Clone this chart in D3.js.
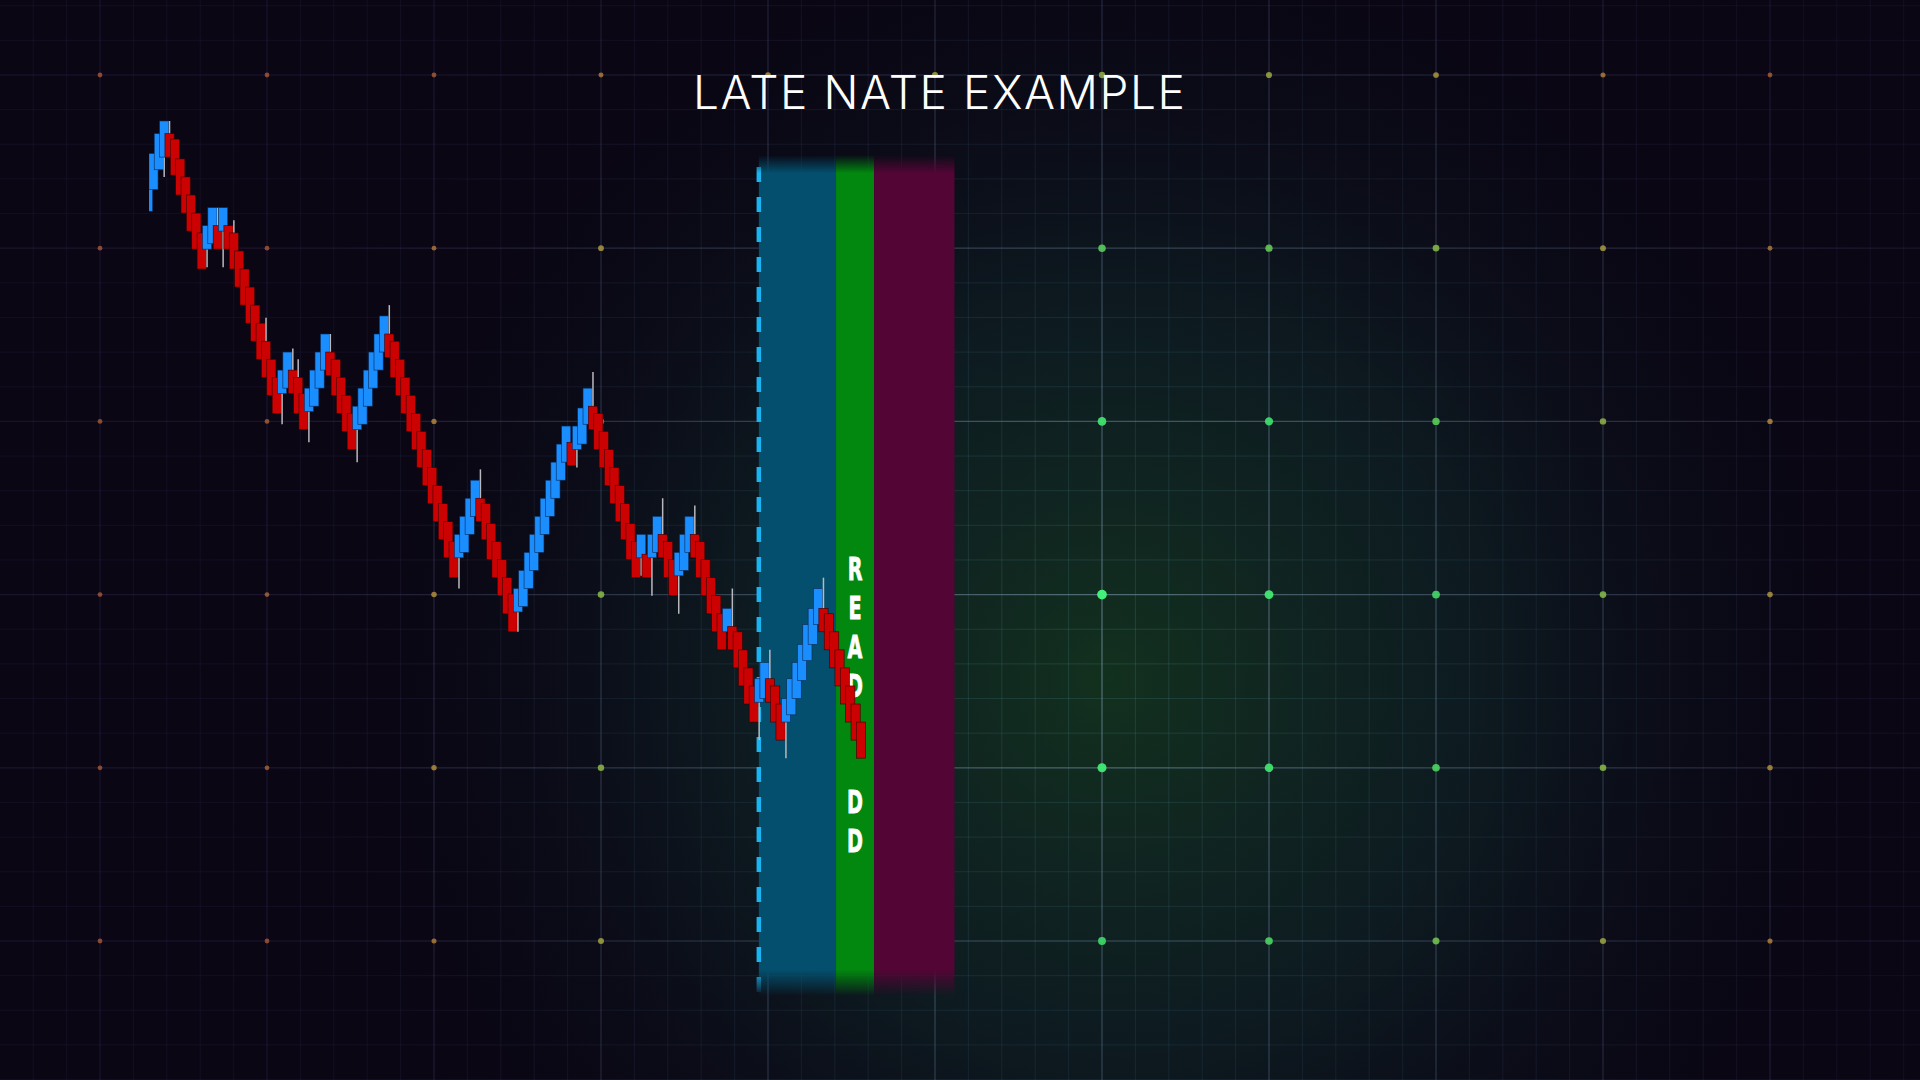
<!DOCTYPE html>
<html><head><meta charset="utf-8">
<script src="https://cdn.jsdelivr.net/npm/d3@7"></script>
<style>html,body{margin:0;padding:0;background:#0b0716;overflow:hidden}</style>
</head><body>
<svg id="c" width="1920" height="1080"></svg>
<script>
// ---------------- data ----------------
const title = "LATE NATE EXAMPLE";
const bandLabel = ["R","E","A","D","","","D","D"];
// brick open / close values (price in box units)
const opens = [
 -5,-3.8,-2.7,-2,-0.7,-1,-2.1,-3.1,-4.1,-5.1,
 -6.2,-7.1,-6.8,-5.8,-6.1,-5.8,-6.2,-7.2,-8.2,-9.2,
 -10.2,-11.2,-12.2,-13.2,-14.2,-15.1,-14.8,-13.8,-14.2,-15.1,
 -16.1,-15.8,-14.8,-13.8,-12.8,-13.2,-14.2,-15.2,-16.2,-17.1,
 -16.8,-15.8,-14.8,-13.8,-12.8,-11.8,-12.2,-13.2,-14.2,-15.2,
 -16.2,-17.2,-18.2,-19.2,-20.2,-21.2,-22.2,-23.3,-24.2,-23.9,
 -22.9,-21.9,-20.9,-21.2,-22.3,-23.3,-24.3,-25.3,-26.2,-27.2,
 -26.9,-25.9,-24.9,-23.9,-22.9,-21.9,-20.9,-19.9,-18.9,-17.8,
 -18.2,-17.9,-16.8,-15.8,-16.2,-17.2,-18.2,-19.2,-20.2,-21.2,
 -22.3,-23.3,-24.2,-24,-24.2,-23.9,-22.9,-23.3,-24.3,-25.2,
 -24.9,-23.9,-22.9,-23.3,-24.3,-25.3,-26.3,-27.3,-28.3,-28,
 -28.3,-29.3,-30.3,-31.3,-32.2,-32,-30.9,-31.3,-32.3,-33.3,
 -32.9,-32,-31,-29.9,-29,-27.9,-27,-27.3,-28.3,-29.3,
 -30.3,-31.3,-32.3,-33.3
];
const closes = [
 -3,-1.8,-0.7,0,-2,-3,-4.1,-5.1,-6.1,-7.1,
 -8.2,-5.8,-4.8,-7.1,-4.8,-7.1,-8.2,-9.2,-10.2,-11.2,
 -12.2,-13.2,-14.2,-15.2,-16.2,-13.8,-12.8,-15.1,-16.2,-17.1,
 -14.8,-13.8,-12.8,-11.8,-14.1,-15.2,-16.2,-17.2,-18.2,-15.8,
 -14.8,-13.8,-12.8,-11.8,-10.8,-13.1,-14.2,-15.2,-16.2,-17.2,
 -18.2,-19.2,-20.2,-21.2,-22.2,-23.2,-24.2,-25.3,-22.9,-21.9,
 -20.9,-19.9,-22.2,-23.2,-24.3,-25.3,-26.3,-27.3,-28.3,-25.9,
 -24.9,-23.9,-22.9,-21.9,-20.9,-19.9,-18.9,-17.9,-16.9,-19.1,
 -16.9,-15.9,-14.8,-17.1,-18.2,-19.2,-20.2,-21.2,-22.2,-23.2,
 -24.3,-25.3,-22.9,-25.3,-22.9,-21.9,-24.2,-25.3,-26.3,-23.9,
 -22.9,-21.9,-24.2,-25.3,-26.3,-27.3,-28.3,-29.3,-27,-29.3,
 -30.3,-31.3,-32.3,-33.3,-30.9,-30,-32.2,-33.3,-34.3,-32,
 -30.9,-30,-29,-27.9,-27,-25.9,-28.3,-29.3,-30.3,-31.3,
 -32.3,-33.3,-34.3,-35.3
];
// wicks: [brick index, extreme price]
const wicks = [
 [3,-3.1],[4,0],[11,-8.1],[13,-4.8],[14,-8.1],[16,-5.5],[22,-10.9],[25,-16.8],
 [27,-12.6],[28,-13.2],[30,-17.8],[34,-11.8],[39,-18.9],[45,-10.2],[58,-25.9],
 [62,-19.3],[69,-28.3],[80,-19.2],[83,-13.9],[92,-25.2],[94,-26.3],[96,-20.9],
 [99,-27.3],[102,-21.3],[109,-25.9],[114,-34.3],[116,-29.3],[119,-35.3],[126,-25.3]
];
// zone edges in brick-index units: entry (blue), ready (green), target (maroon)
const zoneEdges = [114.8, 129.2, 136.3, 151.3];
const zoneColors = ["#044f6d", "#02870f", "#530535"];
// grid (major cells)
const gridColsN = 10, gridRowsN = 5;

// ---------------- drawing ----------------
const W = 1920, H = 1080;
const svg = d3.select("#c");
const defs = svg.append("defs");

// scales
const x = d3.scaleLinear().domain([0, opens.length - 1]).range([143.5, 143.5 + 133 * 5.36]);
const y = d3.scaleLinear().domain([0, -36]).range([121, 121 + 36 * 18.05]);
const gx = d3.scaleLinear().domain([0, gridColsN]).range([100, 1770]);
const gy = d3.scaleLinear().domain([0, gridRowsN]).range([75, 941]);

// background
svg.append("rect").attr("width", W).attr("height", H).attr("fill", "#0a0614");
const glow = defs.append("radialGradient").attr("id", "glow")
  .attr("gradientUnits", "userSpaceOnUse").attr("cx", 1110).attr("cy", 680).attr("r", 800);
glow.append("stop").attr("offset", 0).attr("stop-color", "#13331f").attr("stop-opacity", 0.95);
glow.append("stop").attr("offset", 0.45).attr("stop-color", "#0f2426").attr("stop-opacity", 0.7);
glow.append("stop").attr("offset", 1).attr("stop-color", "#0a0614").attr("stop-opacity", 0);
svg.append("rect").attr("width", W).attr("height", H).attr("fill", "url(#glow)");

// grid stroke gradients
function lineGrad(id, stops) {
  const g = defs.append("radialGradient").attr("id", id)
    .attr("gradientUnits", "userSpaceOnUse").attr("cx", 1110).attr("cy", 640).attr("r", 900);
  stops.forEach(s => g.append("stop").attr("offset", s[0]).attr("stop-color", s[1]).attr("stop-opacity", s[2]));
}
lineGrad("minorG", [[0, "#3f7a78", 0.3], [0.55, "#35506a", 0.2], [1, "#3a2c60", 0.18]]);
lineGrad("majorG", [[0, "#8a9cb8", 0.5], [0.5, "#6a7a98", 0.32], [1, "#3a2c60", 0.2]]);

const minorX = d3.range(-3, gridColsN * 5 + 5).map(k => gx(k / 5)).filter(v => v >= 0 && v <= W);
const minorY = d3.range(-3, gridRowsN * 5 + 5).map(k => gy(k / 5)).filter(v => v >= 0 && v <= H);
const gridG = svg.append("g");
gridG.selectAll(".mvx").data(minorX).join("line")
  .attr("x1", d => d).attr("x2", d => d).attr("y1", 0).attr("y2", H)
  .attr("stroke", "url(#minorG)").attr("stroke-width", 1);
gridG.selectAll(".mhy").data(minorY).join("line")
  .attr("x1", 0).attr("x2", W).attr("y1", d => d).attr("y2", d => d)
  .attr("stroke", "url(#minorG)").attr("stroke-width", 1);
gridG.selectAll(".Mx").data(d3.range(0, gridColsN + 1)).join("line")
  .attr("x1", d => gx(d)).attr("x2", d => gx(d)).attr("y1", 0).attr("y2", H)
  .attr("stroke", "url(#majorG)").attr("stroke-width", 1.2);
gridG.selectAll(".My").data(d3.range(0, gridRowsN + 1)).join("line")
  .attr("x1", 0).attr("x2", W).attr("y1", d => gy(d)).attr("y2", d => gy(d))
  .attr("stroke", "url(#majorG)").attr("stroke-width", 1.2);

// grid dots
const dots = [];
for (let i = 0; i <= gridColsN; i++) for (let j = 0; j <= gridRowsN; j++) dots.push([i, j]);
const dotColor = d3.scaleLinear().domain([0, 0.35, 0.55, 0.75, 1])
  .range(["#44f57c", "#3fe06a", "#8cc84a", "#c8a040", "#c86a3a"]).clamp(true);
const dist = d => Math.hypot(gx(d[0]) - 1110, gy(d[1]) - 630) / 900;
svg.append("g").selectAll("circle").data(dots).join("circle")
  .attr("cx", d => gx(d[0])).attr("cy", d => gy(d[1]))
  .attr("r", d => Math.max(2.4, 5 - 3 * dist(d)))
  .attr("fill", d => dotColor(dist(d)))
  .attr("opacity", d => Math.max(0.65, 1 - 0.35 * dist(d)));

// title
svg.append("text").attr("x", 939).attr("y", 109)
  .attr("text-anchor", "middle")
  .attr("font-family", "Inter, Lato, 'Open Sans', sans-serif")
  .attr("font-weight", 300).attr("font-size", 46)
  .attr("fill", "#ffffff")
  .attr("textLength", 492).attr("lengthAdjust", "spacing")
  .text(title);

// zone bands with faded top/bottom
const fade = defs.append("linearGradient").attr("id", "fadeV")
  .attr("gradientUnits", "userSpaceOnUse").attr("x1", 0).attr("x2", 0).attr("y1", 155).attr("y2", 996);
[[0, 0], [18 / 841, 1], [815 / 841, 1], [1, 0]].forEach(s =>
  fade.append("stop").attr("offset", s[0]).attr("stop-color", "#fff").attr("stop-opacity", s[1]));
defs.append("mask").attr("id", "bandMask").attr("maskUnits", "userSpaceOnUse")
  .attr("x", 0).attr("y", 0).attr("width", W).attr("height", H)
  .append("rect").attr("x", 0).attr("y", 0).attr("width", W).attr("height", H).attr("fill", "url(#fadeV)");
const bandG = svg.append("g").attr("mask", "url(#bandMask)");
bandG.selectAll("rect").data(zoneColors).join("rect")
  .attr("x", (d, i) => x(zoneEdges[i]))
  .attr("width", (d, i) => x(zoneEdges[i + 1]) - x(zoneEdges[i]))
  .attr("y", 155).attr("height", 841)
  .attr("fill", d => d);
bandG.append("line")
  .attr("x1", x(zoneEdges[0])).attr("x2", x(zoneEdges[0]))
  .attr("y1", 167).attr("y2", 996)
  .attr("stroke", "#1ab4f2").attr("stroke-width", 4.5)
  .attr("stroke-dasharray", "15 15");

// vertical label (condensed bold letters)
const labelX = (x(zoneEdges[1]) + x(zoneEdges[2])) / 2;
svg.append("g").selectAll("text").data(bandLabel).join("text")
  .attr("transform", (d, i) => `translate(${labelX},${580 + i * 38.9}) scale(0.64,1.05)`)
  .attr("text-anchor", "middle")
  .attr("font-family", "'DejaVu Sans', 'Roboto', sans-serif")
  .attr("font-weight", 700).attr("font-size", 30)
  .attr("fill", "#ffffff").attr("stroke", "#ffffff").attr("stroke-width", 0.8)
  .text(d => d);

// candles
defs.append("clipPath").attr("id", "candleClip")
  .append("rect").attr("x", 149).attr("y", 0).attr("width", W - 149).attr("height", H);
const bw = 9.2;
const wickMap = new Map(wicks.map(w => [w[0], w[1]]));
const cg = svg.append("g").attr("clip-path", "url(#candleClip)");
const candles = cg.selectAll("g").data(opens.map((o, i) => ({ i, o, c: closes[i] }))).join("g");
candles.filter(d => wickMap.has(d.i)).append("line")
  .attr("x1", d => x(d.i) + bw / 2).attr("x2", d => x(d.i) + bw / 2)
  .attr("y1", d => y(wickMap.get(d.i))).attr("y2", d => y((d.o + d.c) / 2))
  .attr("stroke", "#b9b9bd").attr("stroke-width", 1.5);
candles.append("rect")
  .attr("x", d => x(d.i))
  .attr("y", d => y(Math.max(d.o, d.c)))
  .attr("width", bw)
  .attr("height", d => Math.abs(y(d.o) - y(d.c)))
  .attr("fill", d => d.c > d.o ? "#1a8dff" : "#cc0202")
  .attr("stroke", d => d.c > d.o ? "#0a2a55" : "#3a0000")
  .attr("stroke-width", 0.6);
</script>
</body></html>
